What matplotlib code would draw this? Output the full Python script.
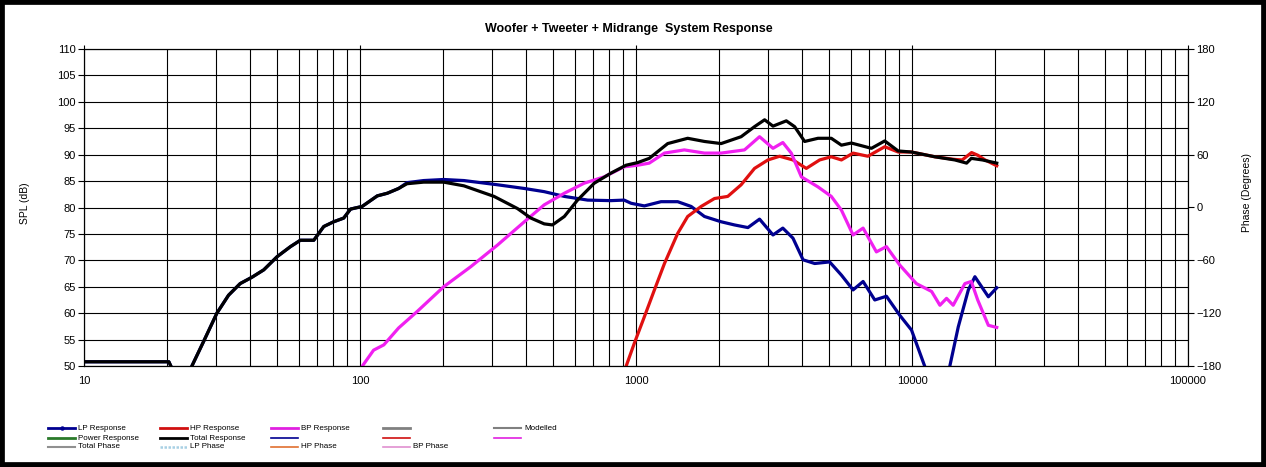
import matplotlib
matplotlib.use("Agg")
import matplotlib.pyplot as plt
from matplotlib.lines import Line2D
from matplotlib.patches import Rectangle
from matplotlib.ticker import FixedLocator, FuncFormatter, NullFormatter, LogLocator

plt.rcParams['font.family'] = ['Liberation Sans', 'DejaVu Sans']

# ---- values ----
total_freq = [10, 20.3, 20.8, 21.5, 23.0, 24.6, 27.1, 30.3, 33.4, 36.8, 40.6, 44.8, 50.1, 56,
              60.8, 68, 73.9, 80.3, 87.3, 92.4, 101.8, 115.5, 125.6, 138, 148, 170, 201, 238,
              306, 372, 416, 465, 498, 550, 614, 706, 811, 920, 1014, 1117, 1303, 1539, 1770,
              2034, 2404, 2688, 2924, 3136, 3504, 3756, 4083, 4564, 5100, 5550, 6032, 7129,
              7965, 8913, 9960, 12100, 14300, 15770, 16400, 18000, 20280]
total_spl = [50.8, 50.8, 49.6, 45.0, 45.0, 50.0, 54.6, 60.0, 63.4, 65.6, 66.8, 68.2, 70.7, 72.6,
             73.8, 73.8, 76.4, 77.3, 78.0, 79.7, 80.2, 82.2, 82.7, 83.6, 84.5, 84.8, 84.8, 84.1,
             82.1, 79.8, 78.0, 76.9, 76.7, 78.3, 81.4, 84.6, 86.5, 88.0, 88.5, 89.3, 92.1, 93.1,
             92.5, 92.1, 93.4, 95.3, 96.6, 95.4, 96.4, 95.3, 92.5, 93.1, 93.1, 91.8, 92.2, 91.2,
             92.6, 90.7, 90.5, 89.6, 89.0, 88.4, 89.3, 89.0, 88.4]

lp_freq = [10, 20.3, 20.8, 21.5, 23.0, 24.6, 27.1, 30.3, 33.4, 36.8, 40.6, 44.8, 50.1, 56,
           60.8, 68, 73.9, 80.3, 87.3, 92.4, 101.8, 115.5, 125.6, 138, 148, 170, 201, 238,
           315, 394, 465, 550, 668, 811, 906, 960, 1072, 1232, 1416, 1584, 1770, 2034, 2274,
           2544, 2803, 3136, 3404, 3704, 4030, 4440, 5030, 5550, 6116, 6650, 7330, 8080,
           9030, 9960, 11130, 11600, 13200, 13700, 14710, 16000, 16900, 18910, 20280]
lp_spl = [50.8, 50.8, 49.6, 45.0, 45.0, 50.0, 54.6, 60.0, 63.4, 65.6, 66.8, 68.2, 70.7, 72.6,
          73.8, 73.8, 76.4, 77.3, 78.0, 79.7, 80.2, 82.2, 82.7, 83.6, 84.7, 85.1, 85.3, 85.1,
          84.3, 83.6, 83.0, 82.1, 81.4, 81.3, 81.4, 80.8, 80.3, 81.1, 81.1, 80.2, 78.3, 77.3,
          76.7, 76.2, 77.8, 74.8, 76.1, 74.2, 70.1, 69.4, 69.7, 67.2, 64.4, 66.0, 62.5, 63.2,
          59.6, 56.8, 49.9, 45.0, 45.0, 49.9, 57.4, 64.4, 66.9, 63.1, 64.8]

hp_freq = [880, 920, 986, 1072, 1166, 1268, 1416, 1539, 1722, 1925, 2150, 2404, 2688, 3006,
           3313, 3704, 4140, 4628, 5100, 5550, 6116, 6920, 7965, 8913, 9960, 12100, 14300,
           15200, 16440, 17300, 18400, 20280]
hp_spl = [45.0, 49.9, 54.3, 59.3, 64.4, 69.4, 75.1, 78.3, 80.2, 81.7, 82.1, 84.3, 87.4, 89.0,
          89.7, 89.0, 87.4, 89.0, 89.6, 89.0, 90.3, 89.7, 91.5, 90.5, 90.5, 89.6, 89.1,
          89.0, 90.4, 89.9, 89.0, 87.9]

bp_freq = [97, 102, 112, 122, 138, 161, 201, 252, 315, 394, 465, 550, 649, 767, 906, 1014,
           1117, 1268, 1496, 1770, 2034, 2472, 2803, 3136, 3404, 3652, 3973, 4564, 5100, 5550,
           6116, 6650, 7430, 8080, 9030, 10370, 11780, 12620, 13340, 14100, 15550, 16400,
           17300, 18910, 20280]
bp_spl = [45.0, 50.0, 53.0, 54.0, 57.2, 60.3, 65.0, 68.8, 72.9, 77.3, 80.5, 82.7, 84.6, 85.8,
          87.7, 88.0, 88.4, 90.3, 90.9, 90.3, 90.3, 90.9, 93.4, 91.2, 92.3, 90.3, 85.8, 83.9,
          82.1, 79.5, 74.8, 76.1, 71.6, 72.6, 69.1, 65.6, 64.1, 61.5, 62.8, 61.5, 65.6, 66.0,
          62.5, 57.7, 57.3]

spl_ticks = list(range(50, 111, 5))
phase_ticks = list(range(-180, 181, 60))
freq_ticks = [10, 100, 1000, 10000, 100000]

# legend entries laid out as in the sheet: (row, col, label, colour, width, style)
legend_items = [
    (0, 0, 'LP Response', '#000090', 2.0, '-'),
    (0, 1, 'HP Response', '#d01010', 2.0, '-'),
    (0, 2, 'BP Response', '#e020e0', 2.0, '-'),
    (0, 3, '', '#808080', 2.0, '-'),
    (0, 4, 'Modelled', '#808080', 1.5, '-'),
    (1, 0, 'Power Response', '#2a7a2a', 2.0, '-'),
    (1, 1, 'Total Response', '#000000', 2.0, '-'),
    (1, 2, '', '#000090', 1.2, '-'),
    (1, 3, '', '#d01010', 1.2, '-'),
    (1, 4, '', '#e020e0', 1.2, '-'),
    (2, 0, 'Total Phase', '#909090', 1.5, '-'),
    (2, 1, 'LP Phase', '#a8d0e4', 1.8, (0, (1, 0.6))),
    (2, 2, 'HP Phase', '#e07030', 1.2, '-'),
    (2, 3, 'BP Phase', '#e090d0', 1.2, '-'),
]


def main():
    W, H = 1266, 467
    fig = plt.figure(figsize=(W / 100, H / 100), dpi=100)
    ax = fig.add_axes([84 / W, 101 / H, 1104 / W, 317 / H])

    ax.plot(lp_freq, lp_spl, color='#000090', lw=2.3, solid_joinstyle='round')
    ax.plot(hp_freq, hp_spl, color='#e01010', lw=2.3, solid_joinstyle='round')
    ax.plot(bp_freq, bp_spl, color='#f020f0', lw=2.3, solid_joinstyle='round')
    ax.plot(total_freq, total_spl, color='black', lw=2.3, solid_joinstyle='round')

    ax.set_xscale('log')
    ax.set_xlim(10, 100000)
    ax.set_ylim(50, 110)
    ax.xaxis.set_major_locator(FixedLocator(freq_ticks))
    ax.xaxis.set_major_formatter(FuncFormatter(lambda v, p: '%d' % v))
    ax.xaxis.set_minor_locator(LogLocator(base=10, subs=range(2, 10), numticks=20))
    ax.xaxis.set_minor_formatter(NullFormatter())
    ax.set_yticks(spl_ticks)

    ax.grid(which='both', color='black', lw=0.8)
    ax.set_axisbelow(True)
    ax.tick_params(axis='x', which='major', bottom=False, top=True, direction='out',
                   length=3, width=0.8, labelsize=8, pad=4)
    ax.tick_params(axis='x', which='minor', bottom=False, top=False)
    ax.tick_params(axis='y', direction='out', length=4, width=0.8, labelsize=8, pad=2)
    for s in ax.spines.values():
        s.set_linewidth(0.8)

    ax.set_ylabel('SPL (dB)', fontsize=7.5)
    ax.yaxis.set_label_coords(-0.049, 0.514)

    ax2 = ax.twinx()
    ax2.set_ylim(-180, 180)
    ax2.set_yticks(phase_ticks)
    ax2.tick_params(axis='y', direction='out', length=4, width=0.8, labelsize=8, pad=2)
    ax2.set_ylabel('Phase (Degrees)', fontsize=7.5)
    ax2.yaxis.set_label_coords(1.0486, 0.546)

    fig.text(629 / W, 1 - 29 / H, 'Woofer + Tweeter + Midrange  System Response',
             ha='center', va='center', fontsize=9, fontweight='bold')

    # legend block under the plot
    col_x = [48, 160, 271, 383, 494]
    row_y = [428, 438, 447]
    for row, col, label, color, lw, ls in legend_items:
        x0 = col_x[col]
        y = 1 - row_y[row] / H
        fig.add_artist(Line2D([x0 / W, (x0 + 27) / W], [y, y], color=color, lw=lw, ls=ls,
                              transform=fig.transFigure))
        if row == 0 and col == 0:
            fig.add_artist(Line2D([(x0 + 13.5) / W], [y], color=color, marker='o', ms=2.2,
                                  transform=fig.transFigure))
        if label:
            fig.text((x0 + 30) / W, y, label, ha='left', va='center', fontsize=5.8)

    fig.add_artist(Rectangle((0, 0), 1, 1, transform=fig.transFigure, fill=False,
                             edgecolor='black', lw=7))

    fig.savefig('out.png', dpi=100)


if __name__ == "__main__":
    main()
